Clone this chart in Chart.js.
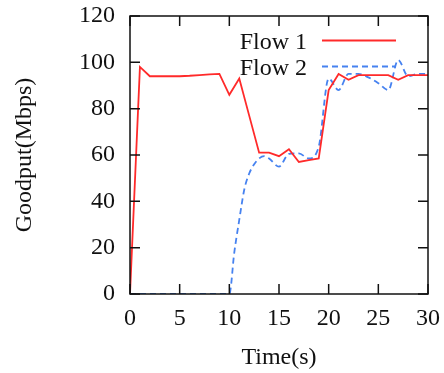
<!DOCTYPE html>
<html>
<head>
<meta charset="utf-8">
<script src="https://cdn.jsdelivr.net/npm/chart.js@4/dist/chart.umd.min.js"></script>
<style>
html,body{margin:0;padding:0;background:#fff;}
#wrap{width:444px;height:373px;}
</style>
</head>
<body>
<div id="wrap"><canvas id="c" width="444" height="373"></canvas></div>
<script>
// ---- data ----
const time1 = [0,1,2,3,4,5,6,7,8,9,10,11,12,13,14,15,16,17,18,19,20,21,22,23,24,25,26,27,28,29,30];
const flow1 = [0,98,94,94,94,94,94.2,94.5,94.8,95,86,93,77,61,61,59.5,62.5,57,57.8,58.5,88,95,92.5,94.5,94.5,94.5,94.5,92.5,94.5,94.5,94.5];
const time2 = [0,1,2,3,4,5,6,7,8,9,10,10.5,11,11.5,12,12.5,13,13.5,14,15,16,17,18,19,20,21,22,23,24,25,26,27,28,29,30];
const flow2 = [0,0,0,0,0,0,0,0,0,0,0,18,32,45,52,56,58.5,59.5,58.5,55,60.5,60.7,58.5,63.6,93,88,95,95,93.5,91,88,101,94,95,95];
const seriesNames = ["Flow 1","Flow 2"];
const xTicks = [0,5,10,15,20,25,30];
const yTicks = [0,20,40,60,80,100,120];
const xTitle = "Time(s)";
const yTitle = "Goodput(Mbps)";

const FONT = "'Liberation Serif', 'Times New Roman', serif";
const FS = 24;
const RED = "#ff2a2a";
const BLUE = "#4682f0";

const toXY = (xs, ys) => xs.map((x, i) => ({x: x, y: ys[i]}));

// gnuplot-like frame with inward ticks on all four sides + legend
const framePlugin = {
  id: 'frame',
  afterDatasetsDraw(chart) {
    const {ctx, chartArea: a, scales} = chart;
    ctx.save();
    ctx.strokeStyle = '#111';
    ctx.lineWidth = 1.5;
    ctx.strokeRect(a.left, a.top, a.right - a.left, a.bottom - a.top);
    const tl = 10;
    ctx.beginPath();
    xTicks.forEach(v => {
      const px = scales.x.getPixelForValue(v);
      ctx.moveTo(px, a.bottom); ctx.lineTo(px, a.bottom - tl);
      ctx.moveTo(px, a.top); ctx.lineTo(px, a.top + tl);
    });
    yTicks.forEach(v => {
      const py = scales.y.getPixelForValue(v);
      ctx.moveTo(a.left, py); ctx.lineTo(a.left + tl, py);
      ctx.moveTo(a.right, py); ctx.lineTo(a.right - tl, py);
    });
    ctx.stroke();

    // legend (text right-aligned, sample line on the right)
    const rows = [40.5, 66.5];
    chart.data.datasets.forEach((ds, i) => {
      const y = rows[i];
      ctx.font = FS + "px " + FONT;
      ctx.fillStyle = '#111';
      ctx.textAlign = 'right';
      ctx.textBaseline = 'middle';
      ctx.fillText(ds.label, 307, y + 2);
      ctx.beginPath();
      ctx.strokeStyle = ds.borderColor;
      ctx.lineWidth = ds.borderWidth;
      ctx.setLineDash(ds.borderDash || []);
      ctx.moveTo(322, y); ctx.lineTo(396, y);
      ctx.stroke();
      ctx.setLineDash([]);
    });
    ctx.restore();
  }
};

const noPad = s => { s.paddingLeft = 0; s.paddingRight = 0; s.paddingTop = 0; s.paddingBottom = 0; };

new Chart(document.getElementById('c'), {
  type: 'line',
  data: {
    datasets: [
      {label: seriesNames[0], data: toXY(time1, flow1), borderColor: RED, borderWidth: 1.8,
       pointRadius: 0, tension: 0, fill: false},
      {label: seriesNames[1], data: toXY(time2, flow2), borderColor: BLUE, borderWidth: 1.8,
       borderDash: [6, 4], pointRadius: 0, cubicInterpolationMode: 'monotone', fill: false}
    ]
  },
  options: {
    responsive: false,
    animation: false,
    layout: {padding: {top: 16, right: 16, left: 0, bottom: 0}},
    plugins: {legend: {display: false}, tooltip: {enabled: false}},
    scales: {
      x: {
        type: 'linear', min: 0, max: 30,
        afterBuildTicks: s => { s.ticks = xTicks.map(v => ({value: v})); },
        afterFit: s => { s.height = 373 - 294; noPad(s); },
        grid: {display: false, drawTicks: false},
        border: {display: false},
        ticks: {color: '#111', font: {family: FONT, size: FS}, padding: 10, maxRotation: 0, autoSkip: false},
        title: {display: true, text: xTitle, color: '#111', font: {family: FONT, size: FS}, padding: {top: 0, bottom: 1}}
      },
      y: {
        type: 'linear', min: 0, max: 120,
        afterBuildTicks: s => { s.ticks = yTicks.map(v => ({value: v})); },
        afterFit: s => { s.width = 130; noPad(s); },
        grid: {display: false, drawTicks: false},
        border: {display: false},
        ticks: {color: '#111', font: {family: FONT, size: FS}, padding: 15, autoSkip: false},
        title: {display: true, text: yTitle, color: '#111', font: {family: FONT, size: FS}, padding: {top: 10, bottom: 0}}
      }
    }
  },
  plugins: [framePlugin]
});
</script>
</body>
</html>
